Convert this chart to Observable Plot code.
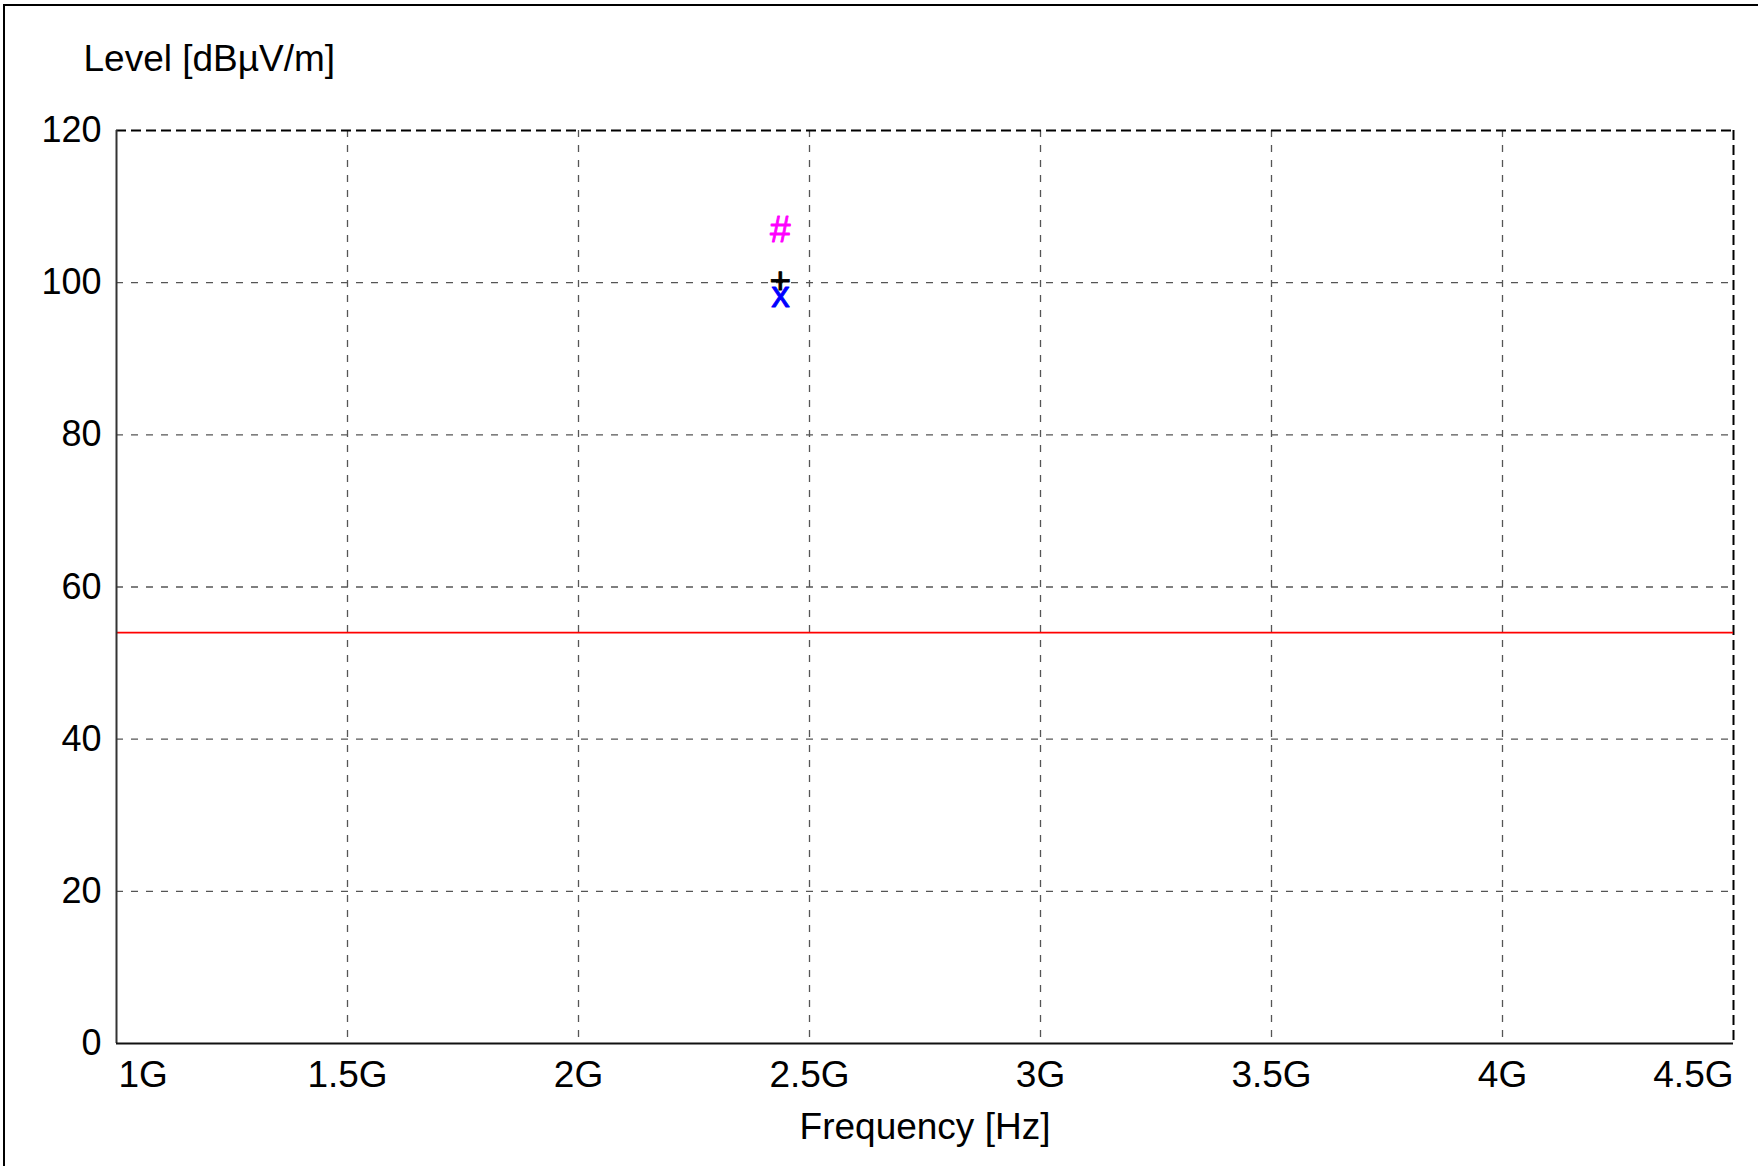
<!DOCTYPE html>
<html>
<head>
<meta charset="utf-8">
<script src="https://cdn.jsdelivr.net/npm/d3@7"></script>
<script src="https://cdn.jsdelivr.net/npm/@observablehq/plot@0.6"></script>
<style>
  html, body { margin: 0; padding: 0; background: #fff; }
  #wrap { position: relative; width: 1758px; height: 1166px; }
  #edge { position: absolute; left: 3px; top: 4px; right: 0; bottom: 0; border-left: 2px solid #000; border-top: 2px solid #000; pointer-events: none; }
  svg { display: block; }
</style>
</head>
<body>
<div id="wrap"><div id="edge"></div></div>
<script>
// Data
const xTicks = [1e9, 1.5e9, 2e9, 2.5e9, 3e9, 3.5e9, 4e9, 4.5e9];
const xTickLabels = ["1G", "1.5G", "2G", "2.5G", "3G", "3.5G", "4G", "4.5G"];
const yTicks = [0, 20, 40, 60, 80, 100, 120];
const limitLevel = 54;           // red limit line, dBµV/m
const markerFreq = [2.437e9, 2.437e9, 2.437e9];
const markerLevel = [106.9, 100.2, 98.3];
const markerSymbol = ["#", "+", "x"];
const markerColor = ["#ff00ff", "#000000", "#0000ff"];

const markers = markerFreq.map((f, i) => ({f, v: markerLevel[i], s: markerSymbol[i], c: markerColor[i]}));
const xt = xTicks.map((t, i) => ({t, label: xTickLabels[i]}));
const font = "Liberation Sans, Arial, Helvetica, sans-serif";
const fs = 37;

const chart = Plot.plot({
  width: 1758,
  height: 1166,
  marginLeft: 116,
  marginRight: 25,
  marginTop: 130,
  marginBottom: 123,
  style: {fontFamily: font, background: "transparent", color: "#000"},
  x: {domain: [1e9, 4.5e9], axis: null},
  y: {domain: [0, 120], axis: null},
  marks: [
    // grid
    Plot.ruleX(xTicks.slice(1, -1), {stroke: "#555", strokeWidth: 1.3, strokeDasharray: "7,8"}),
    Plot.ruleY(yTicks.slice(1, -1), {stroke: "#555", strokeWidth: 1.3, strokeDasharray: "7,8"}),
    // top & right dashed borders
    Plot.ruleY([120], {stroke: "#000", strokeWidth: 2, strokeDasharray: "10,5"}),
    Plot.ruleX([4.5e9], {stroke: "#000", strokeWidth: 2, strokeDasharray: "10,5"}),
    // limit line
    Plot.ruleY([limitLevel], {stroke: "#ff0000", strokeWidth: 1.6}),
    // axes lines
    Plot.ruleX([1e9], {stroke: "#333", strokeWidth: 2}),
    Plot.ruleY([0], {stroke: "#111", strokeWidth: 2}),
    // y tick labels
    Plot.text(yTicks, {x: 1e9, y: d => d, text: d => String(d), textAnchor: "end", dx: -15, fontSize: 36, fill: "#000"}),
    // x tick labels
    Plot.text(xt.slice(0, 1), {x: "t", text: "label", frameAnchor: "bottom", textAnchor: "start", lineAnchor: "bottom", dx: 2, dy: 43, fontSize: fs, fill: "#000"}),
    Plot.text(xt.slice(1, -1), {x: "t", text: "label", frameAnchor: "bottom", textAnchor: "middle", lineAnchor: "bottom", dy: 43, fontSize: fs, fill: "#000"}),
    Plot.text(xt.slice(-1), {x: "t", text: "label", frameAnchor: "bottom", textAnchor: "end", lineAnchor: "bottom", dx: 0, dy: 43, fontSize: fs, fill: "#000"}),
    // axis labels
    Plot.text(["Frequency [Hz]"], {frameAnchor: "bottom", textAnchor: "middle", lineAnchor: "bottom", dy: 95, fontSize: fs, fill: "#000"}),
    Plot.text(["Level [dBµV/m]"], {frameAnchor: "top-left", textAnchor: "start", lineAnchor: "bottom", dx: -33, dy: -60, fontSize: fs, fill: "#000"}),
    // markers
    Plot.text(markers, {x: "f", y: "v", text: "s", fill: "c", stroke: "c", strokeWidth: 0.9, fontSize: 37, textAnchor: "middle"})
  ]
});
document.getElementById("wrap").prepend(chart);
</script>
</body>
</html>
